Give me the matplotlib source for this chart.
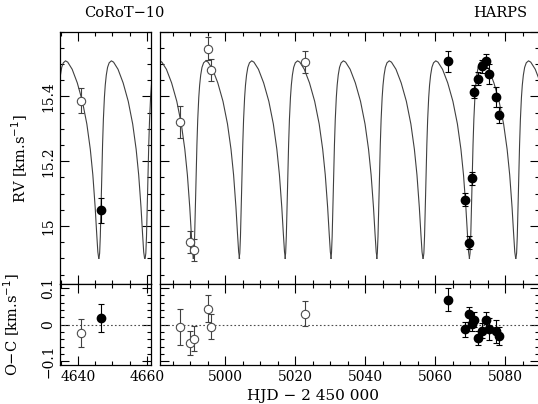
import matplotlib.pyplot as plt
from matplotlib.ticker import MultipleLocator, FixedLocator
import numpy as np

plt.rcParams['font.family'] = ['DejaVu Serif']

# open circles (first instrument), filled circles (HARPS)
t_open = [4640.8, 4987.1, 4990.0, 4991.1, 4995.2, 4996.0, 5022.9]
rv_open = [15.387, 15.322, 14.950, 14.926, 15.548, 15.481, 15.505]
err_open = [0.038, 0.049, 0.034, 0.035, 0.036, 0.034, 0.034]
oc_open = [-0.023, -0.006, -0.050, -0.038, 0.044, -0.006, 0.030]

t_fill = [4646.6, 5063.6, 5068.5, 5069.6, 5070.6, 5071.2, 5072.4,
          5073.3, 5074.5, 5075.4, 5077.4, 5078.4]
rv_fill = [15.048, 15.508, 15.081, 14.949, 15.148, 15.415, 15.455,
           15.494, 15.510, 15.469, 15.399, 15.344]
err_fill = [0.038, 0.031, 0.020, 0.020, 0.020, 0.020, 0.020,
            0.020, 0.022, 0.030, 0.031, 0.025]
oc_fill = [0.018, 0.068, -0.013, 0.028, 0.003, 0.014, -0.036,
           -0.016, 0.012, -0.011, -0.018, -0.031]

# model curve: one orbit (days after minimum, RV),
# repeated at each minimum seen in the figure
cyc_dt = [0.000, 0.200, 0.394, 0.691, 1.051, 1.284, 1.580, 1.827, 2.129,
          2.502, 2.966, 3.605, 4.241, 5.529, 7.014, 8.499, 9.787, 10.790,
          11.526, 12.201, 12.654, 12.977, 13.240]
cyc_rv = [14.900, 14.916, 14.968, 15.095, 15.252, 15.329, 15.397, 15.435,
          15.466, 15.490, 15.504, 15.510, 15.506, 15.484, 15.442, 15.385,
          15.315, 15.237, 15.158, 15.058, 14.975, 14.920, 14.900]
t_min = [4632.8, 4646.1, 4659.5, 4977.7, 4990.9, 5004.0, 5017.1, 5030.2,
         5043.3, 5056.6, 5069.8, 5083.1]


def style(ax, left):
    ax.tick_params(which='both', direction='in', top=True, right=True,
                   labelsize=10, width=0.8)
    ax.tick_params(which='major', length=6.5)
    ax.tick_params(which='minor', length=3.2)
    for s in ax.spines.values():
        s.set_linewidth(0.9)
    if not left:
        ax.tick_params(labelleft=False)


def main():
    fig = plt.figure(figsize=(5.38, 4.04), dpi=100)
    W, H = 538.0, 404.0
    xl = [60 / W, 91 / W]
    xr = [160 / W, 379 / W]
    top = [1 - 284.3 / H, 252.6 / H]
    bot = [1 - 365 / H, 80.7 / H]

    a1 = fig.add_axes([xl[0], top[0], xl[1], top[1]])
    a2 = fig.add_axes([xr[0], top[0], xr[1], top[1]])
    b1 = fig.add_axes([xl[0], bot[0], xl[1], bot[1]])
    b2 = fig.add_axes([xr[0], bot[0], xr[1], bot[1]])

    for ax, lim in [(a1, (4634.8, 4661.2)), (a2, (4981.4, 5089.7))]:
        for t0 in t_min:
            ax.plot(np.array(cyc_dt) + t0, cyc_rv, color='0.25', lw=0.8)
        ax.errorbar(t_open, rv_open, yerr=err_open, fmt='o', mfc='white',
                    mec='0.3', ms=6, mew=0.8, ecolor='0.25', elinewidth=0.8,
                    capsize=2.5, capthick=0.8)
        ax.errorbar(t_fill, rv_fill, yerr=err_fill, fmt='o', color='black',
                    ms=6, ecolor='black', elinewidth=0.8, capsize=2.5,
                    capthick=0.8)
        ax.set_xlim(lim)
        ax.set_ylim(14.82, 15.6)
        ax.yaxis.set_major_locator(MultipleLocator(0.2))
        ax.yaxis.set_minor_locator(MultipleLocator(0.05))
        ax.tick_params(labelbottom=False)

    for ax, lim in [(b1, (4634.8, 4661.2)), (b2, (4981.4, 5089.7))]:
        ax.axhline(0, color='0.3', lw=0.8, ls=(0, (1.5, 2)))
        ax.errorbar(t_open, oc_open, yerr=err_open, fmt='o', mfc='white',
                    mec='0.3', ms=6, mew=0.8, ecolor='0.25', elinewidth=0.8,
                    capsize=2.5, capthick=0.8)
        ax.errorbar(t_fill, oc_fill, yerr=err_fill, fmt='o', color='black',
                    ms=6, ecolor='black', elinewidth=0.8, capsize=2.5,
                    capthick=0.8)
        ax.set_xlim(lim)
        ax.set_ylim(-0.11, 0.11)
        ax.yaxis.set_major_locator(MultipleLocator(0.1))
        ax.yaxis.set_minor_locator(MultipleLocator(0.02))

    for ax in [a1, b1]:
        ax.xaxis.set_major_locator(FixedLocator([4640, 4660]))
        ax.xaxis.set_minor_locator(MultipleLocator(5))
    for ax in [a2, b2]:
        ax.xaxis.set_major_locator(MultipleLocator(20))
        ax.xaxis.set_minor_locator(MultipleLocator(5))

    style(a1, True)
    style(a2, False)
    style(b1, True)
    style(b2, False)

    a1.set_yticks([15, 15.2, 15.4])
    a1.set_yticklabels(['15', '15.2', '15.4'])
    b1.set_yticks([-0.1, 0, 0.1])
    b1.set_yticklabels(['\u22120.1', '0', '0.1'])
    b1.set_xticks([4640, 4660])
    b1.set_xticklabels(['4640', '4660'])
    for ax in [a1, b1]:
        plt.setp(ax.get_yticklabels(), rotation=90, va='center')

    a1.set_ylabel('RV [km.s$^{-1}$]', fontsize=10.5)
    b1.set_ylabel('O\u2212C [km.s$^{-1}$]', fontsize=10.5)
    a1.yaxis.set_label_coords(-0.33, 0.5)
    b1.yaxis.set_label_coords(-0.42, 0.5)

    fig.text(313 / W, 1 - 396 / H, 'HJD \u2212 2 450 000', ha='center',
             va='center', fontsize=11)
    fig.text(124 / W, 1 - 13 / H, 'CoRoT\u221210', ha='center', va='center',
             fontsize=10.5)
    fig.text(527 / W, 1 - 13 / H, 'HARPS', ha='right', va='center',
             fontsize=10.5)

    plt.savefig('out.png', dpi=100)


if __name__ == '__main__':
    main()
